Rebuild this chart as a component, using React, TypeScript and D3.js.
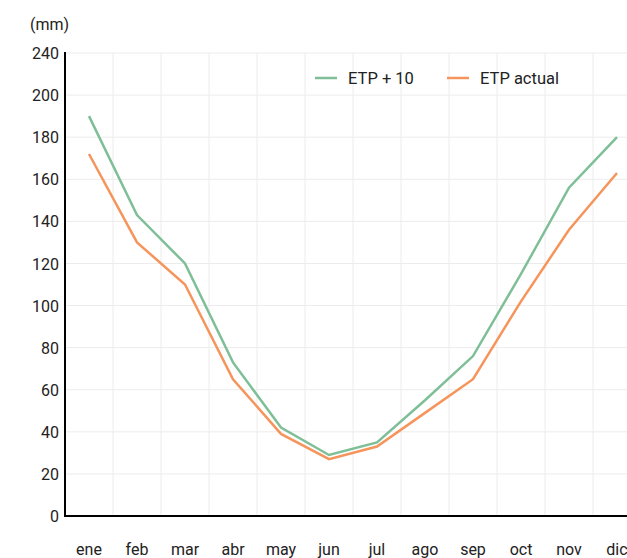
import React from "react";
import * as d3 from "d3";

const months = ["ene", "feb", "mar", "abr", "may", "jun", "jul", "ago", "sep", "oct", "nov", "dic"];
const etpPlus10 = [190, 143, 120, 73, 42, 29, 35, 55, 76, 115, 156, 180];
const etpActual = [172, 130, 110, 65, 39, 27, 33, 49, 65, 102, 136, 163];
const yTickValues = [0, 20, 40, 60, 80, 100, 120, 140, 160, 180, 200, 220];
const yTickLabels = ["0", "20", "40", "60", "80", "100", "120", "140", "160", "180", "200", "240"];
const seriesNames = ["ETP + 10", "ETP actual"];
const seriesColors = ["#7fbf97", "#f5955c"];

const W = 627;
const H = 558;
const left = 65;
const top = 53;
const bottom = 516;
const FONT = "Roboto, 'Open Sans', sans-serif";

export default function App() {
  const x = d3.scaleBand<string>().domain(months).range([left, left + 48 * 12]).padding(0);
  const y = d3.scaleLinear().domain([0, 220]).range([bottom, top]);
  const cx = (m: string) => (x(m) as number) + x.bandwidth() / 2;
  const line = d3
    .line<number>()
    .x((_, i) => cx(months[i]))
    .y((d) => y(d));
  const series = [etpPlus10, etpActual];

  return (
    <svg
      width={W}
      height={H}
      style={{ position: "absolute", left: 0, top: 0, background: "#fff" }}
      fontFamily={FONT}
    >
      {months.map((m, i) =>
        i === 0 ? null : (
          <line key={"vg" + m} x1={x(m)} x2={x(m)} y1={top} y2={bottom} stroke="#ececec" strokeWidth={1} />
        )
      )}
      {yTickValues.map((v) => (
        <line key={"hg" + v} x1={left} x2={W} y1={y(v)} y2={y(v)} stroke="#ececec" strokeWidth={1} />
      ))}
      {yTickValues.map((v, i) => (
        <text key={"yt" + v} x={59} y={y(v)} dy="0.38em" textAnchor="end" fontSize={16} fill="#222">
          {yTickLabels[i]}
        </text>
      ))}
      <text x={30} y={30} fontSize={16} fill="#222">(mm)</text>
      {months.map((m) => (
        <text key={"xl" + m} x={cx(m)} y={555} textAnchor="middle" fontSize={16} fill="#222">
          {m}
        </text>
      ))}
      {series.map((s, k) => (
        <path key={"s" + k} d={line(s) as string} fill="none" stroke={seriesColors[k]} strokeWidth={2.5} strokeLinejoin="miter" />
      ))}
      <line x1={left} x2={left} y1={top - 1} y2={bottom + 1} stroke="#000" strokeWidth={2} />
      <line x1={left} x2={W} y1={bottom} y2={bottom} stroke="#000" strokeWidth={2} />
      {seriesNames.map((n, k) => {
        const lx = k === 0 ? 315 : 447;
        return (
          <g key={"lg" + k}>
            <line x1={lx} x2={lx + 22} y1={78} y2={78} stroke={seriesColors[k]} strokeWidth={2.5} />
            <text x={lx + 33} y={78} dy="0.36em" fontSize={16.5} fill="#222">{n}</text>
          </g>
        );
      })}
    </svg>
  );
}
